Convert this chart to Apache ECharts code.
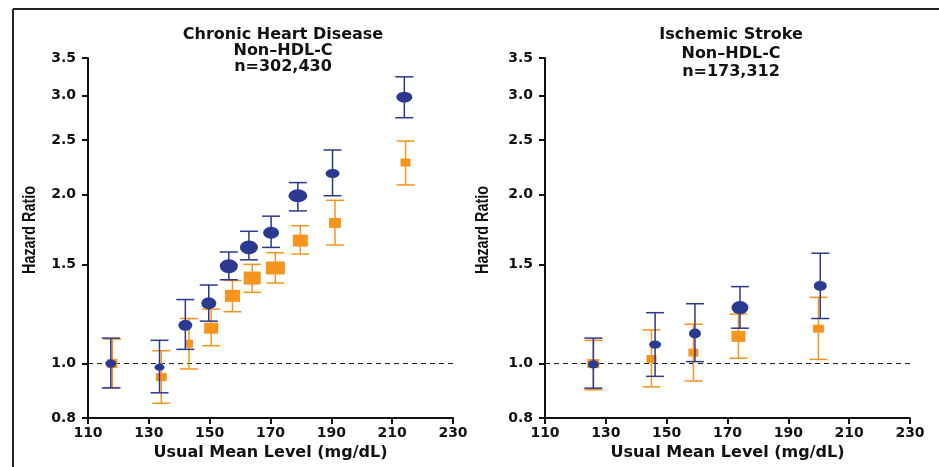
<!DOCTYPE html>
<html>
<head>
<meta charset="utf-8">
<script src="https://cdn.jsdelivr.net/npm/echarts@6/dist/echarts.min.js"></script>
<style>
  html, body { margin: 0; padding: 0; background: #fff; }
  #main { width: 939px; height: 467px; }
</style>
</head>
<body>
<div id="main"></div>
<script>
// 左图：冠心病
let chdBlueX  = [117.5, 133.5, 142.0, 149.7, 156.3, 162.9, 170.2, 179.0, 190.4, 214.0];
let chdBlueHR = [1.00, 0.985, 1.17, 1.28, 1.49, 1.61, 1.71, 1.99, 2.18, 2.98];
let chdBlueLo = [0.905, 0.887, 1.06, 1.19, 1.41, 1.53, 1.61, 1.87, 1.99, 2.74];
let chdBlueHi = [1.11, 1.10, 1.30, 1.38, 1.58, 1.72, 1.83, 2.10, 2.40, 3.24];
let chdBlueSize = [[11, 8], [10, 7], [14, 11], [15, 12], [18, 14], [18, 14], [16, 12], [19, 13], [14, 9], [16, 11]];

let chdOrangeX  = [118.0, 134.1, 143.2, 150.5, 157.5, 164.0, 171.6, 179.8, 191.2, 214.4];
let chdOrangeHR = [1.00, 0.946, 1.085, 1.156, 1.32, 1.42, 1.48, 1.655, 1.78, 2.28];
let chdOrangeLo = [0.906, 0.85, 0.978, 1.076, 1.237, 1.339, 1.391, 1.567, 1.626, 2.08];
let chdOrangeHi = [1.106, 1.054, 1.203, 1.25, 1.406, 1.502, 1.575, 1.76, 1.953, 2.49];
let chdOrangeSize = [[10, 9], [11, 8], [8, 8], [14, 11], [15, 12], [17, 13], [19, 13], [15, 12], [12, 10], [10, 8]];

// 右图：缺血性卒中
let strokeBlueX  = [125.9, 146.2, 159.3, 174.1, 200.5];
let strokeBlueHR = [0.997, 1.081, 1.131, 1.258, 1.375];
let strokeBlueLo = [0.904, 0.949, 1.008, 1.156, 1.203];
let strokeBlueHi = [1.11, 1.232, 1.278, 1.371, 1.572];
let strokeBlueSize = [[11, 8], [12, 8], [12, 10], [17, 13], [13, 10]];

let strokeOrangeX  = [125.9, 145.0, 158.8, 173.6, 199.9];
let strokeOrangeHR = [1.00, 1.019, 1.046, 1.118, 1.154];
let strokeOrangeLo = [0.898, 0.909, 0.931, 1.022, 1.017];
let strokeOrangeHi = [1.10, 1.148, 1.175, 1.225, 1.312];
let strokeOrangeSize = [[12, 9], [10, 8], [10, 8], [14, 11], [11, 8]];

let yTicks = [0.8, 1.0, 1.5, 2.0, 2.5, 3.0, 3.5];

let titles = [
    'Chronic Heart Disease\nNon\u2013HDL-C\nn=302,430',
    'Ischemic Stroke\nNon\u2013HDL-C\nn=173,312'
];
let yName = 'Hazard Ratio';

let blue = '#2b3990';
let orange = '#f7941d';
let font = '"DejaVu Sans", Verdana, sans-serif';

function errorBar(color) {
    return function (params, api) {
        let x = api.value(0);
        let lo = api.coord([x, api.value(1)]);
        let hi = api.coord([x, api.value(2)]);
        let half = 9;
        let style = { stroke: color, lineWidth: 1.5 };
        return {
            type: 'group',
            children: [
                { type: 'line', shape: { x1: hi[0], y1: hi[1], x2: lo[0], y2: lo[1] }, style: style },
                { type: 'line', shape: { x1: hi[0] - half, y1: hi[1], x2: hi[0] + half, y2: hi[1] }, style: style },
                { type: 'line', shape: { x1: lo[0] - half, y1: lo[1], x2: lo[0] + half, y2: lo[1] }, style: style }
            ]
        };
    };
}

function zip3(a, b, c) {
    return a.map(function (v, i) { return [v, b[i], c[i]]; });
}

function points(xs, ys, sizes) {
    return xs.map(function (v, i) {
        return { value: [v, ys[i]], symbolSize: sizes[i] };
    });
}

function xAxisOf(idx) {
    return {
        type: 'value',
        gridIndex: idx,
        min: 110,
        max: 230,
        interval: 20,
        name: 'Usual Mean Level (mg/dL)',
        nameLocation: 'middle',
        nameGap: 26,
        nameTextStyle: { fontFamily: font, fontWeight: 'bold', fontSize: 16, color: '#111' },
        axisLine: { lineStyle: { color: '#111', width: 2 } },
        axisTick: { length: 6, lineStyle: { color: '#111', width: 2 } },
        axisLabel: { fontFamily: font, fontWeight: 'bold', fontSize: 14, color: '#111', margin: 8 },
        splitLine: { show: false }
    };
}

function yAxisOf(idx) {
    return {
        type: 'log',
        gridIndex: idx,
        logBase: 10,
        min: 0.8,
        max: 3.5,
        axisLine: { show: true, lineStyle: { color: '#111', width: 2 } },
        axisTick: { show: true, length: 6, customValues: yTicks, lineStyle: { color: '#111', width: 2 } },
        axisLabel: {
            customValues: yTicks,
            fontFamily: font, fontWeight: 'bold', fontSize: 14, color: '#111', margin: 12,
            formatter: function (v) { return Number(v).toFixed(1); }
        },
        splitLine: { show: false }
    };
}

// 纵轴标题用窄体效果（压缩的粗体）
function yNameText(x) {
    return {
        type: 'text',
        x: x,
        y: 230,
        rotation: Math.PI / 2,
        scaleX: 0.8,
        style: {
            text: yName,
            fontFamily: '"Liberation Sans", Arial, sans-serif',
            fontWeight: 'bold',
            fontSize: 18,
            fill: '#111',
            align: 'center',
            verticalAlign: 'middle'
        }
    };
}

function panelSeries(idx, bX, bHR, bLo, bHi, bSize, oX, oHR, oLo, oHi, oSize) {
    return [
        {
            type: 'custom', xAxisIndex: idx, yAxisIndex: idx,
            renderItem: errorBar(orange),
            encode: { x: 0, y: [1, 2] },
            data: zip3(oX, oLo, oHi),
            z: 2
        },
        {
            type: 'scatter', xAxisIndex: idx, yAxisIndex: idx,
            symbol: 'rect',
            itemStyle: { color: orange, opacity: 1 },
            data: points(oX, oHR, oSize),
            z: 3
        },
        {
            type: 'custom', xAxisIndex: idx, yAxisIndex: idx,
            renderItem: errorBar(blue),
            encode: { x: 0, y: [1, 2] },
            data: zip3(bX, bLo, bHi),
            z: 4
        },
        {
            type: 'scatter', xAxisIndex: idx, yAxisIndex: idx,
            symbol: 'circle',
            itemStyle: { color: blue, opacity: 1 },
            data: points(bX, bHR, bSize),
            z: 5,
            markLine: {
                silent: true,
                symbol: 'none',
                label: { show: false },
                lineStyle: { color: '#222', type: [5, 4], width: 1.2 },
                data: [{ yAxis: 1 }],
                z: 1
            }
        }
    ];
}

let myChart = echarts.init(document.getElementById('main'), null, { renderer: 'canvas' });

let option = {
    backgroundColor: '#fff',
    animation: false,
    title: [
        {
            text: titles[0], left: 278, top: 22, textAlign: 'center',
            textStyle: { fontFamily: font, fontWeight: 'bold', fontSize: 16, lineHeight: 16, color: '#111' }
        },
        {
            text: titles[1], left: 726, top: 21, textAlign: 'center',
            textStyle: { fontFamily: font, fontWeight: 'bold', fontSize: 16, lineHeight: 18.5, color: '#111' }
        }
    ],
    grid: [
        { left: 88, right: 486, top: 58, bottom: 49 },
        { left: 545, right: 29, top: 58, bottom: 49 }
    ],
    xAxis: [xAxisOf(0), xAxisOf(1)],
    yAxis: [yAxisOf(0), yAxisOf(1)],
    series: [].concat(
        panelSeries(0, chdBlueX, chdBlueHR, chdBlueLo, chdBlueHi, chdBlueSize,
            chdOrangeX, chdOrangeHR, chdOrangeLo, chdOrangeHi, chdOrangeSize),
        panelSeries(1, strokeBlueX, strokeBlueHR, strokeBlueLo, strokeBlueHi, strokeBlueSize,
            strokeOrangeX, strokeOrangeHR, strokeOrangeLo, strokeOrangeHi, strokeOrangeSize)
    ),
    graphic: [
        // 外框
        { type: 'line', shape: { x1: 13, y1: 9, x2: 939, y2: 9 }, style: { stroke: '#222', lineWidth: 2 } },
        { type: 'line', shape: { x1: 13, y1: 9, x2: 13, y2: 467 }, style: { stroke: '#222', lineWidth: 2 } },
        yNameText(30),
        yNameText(483)
    ]
};

myChart.setOption(option);
</script>
</body>
</html>
